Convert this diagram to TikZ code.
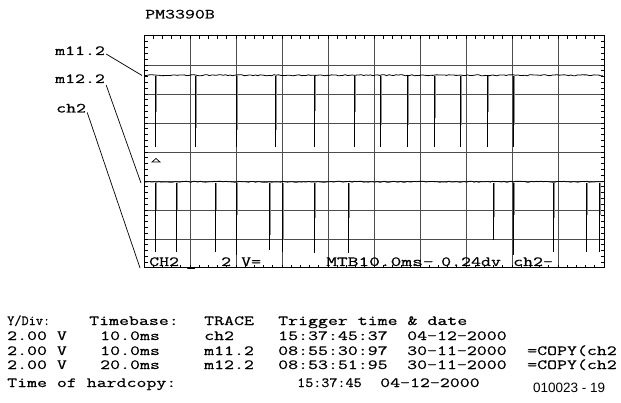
\documentclass[tikz,border=0pt]{standalone}
\usepackage{fontspec}
\setmonofont[FakeStretch=1.38,FakeBold=0.6]{Latin Modern Mono}
\setsansfont{Liberation Sans}
\begin{document}
\begin{tikzpicture}[x=1pt,y=-1pt,
  mono/.style={font=\ttfamily\fontsize{14}{14}\selectfont, inner sep=0pt, anchor=base west},
  gridline/.style={draw=black!70, line width=0.9pt},
  frame/.style={draw=black, line width=1pt},
  tick/.style={draw=black, line width=0.7pt},
  tracebase/.style={draw=black, line width=0.8pt},
  spikegrey/.style={draw=black!45, line width=1.8pt},
  spikeblack/.style={draw=black, line width=0.8pt},
  leader/.style={draw=black, line width=0.7pt}]
\useasboundingbox (0,0) rectangle (621,403);
\pgfmathsetseed{7}
% grid
\foreach \i in {1,...,9} \draw[gridline] ({144+46*\i},36) -- ({144+46*\i},268);
\foreach \j in {1,...,7} \draw[gridline] (144,{36+29*\j}) -- (604,{36+29*\j});
% ticks
\foreach \k in {1,...,49} {
  \draw[tick] ({144+9.2*\k},36) -- ({144+9.2*\k},39.5);
  \draw[tick] ({144+9.2*\k},268) -- ({144+9.2*\k},265.5);
}
\foreach \k in {1,...,39} {
  \draw[tick] (144,{36+5.8*\k}) -- (148,{36+5.8*\k});
  \draw[tick] (604,{36+5.8*\k}) -- (600.5,{36+5.8*\k});
}
\draw[frame] (144,36) rectangle (604,268);
% upper trace m11.2
\draw[tracebase] plot[domain=145:603, samples=200] (\x,{75.8-1.1*rnd});
\foreach \sx/\g in {155/112,195/128,236/130,275/130,314/111,354/112,380/125,407/125,434/118,460/125,487/112,513/125} {
  \draw[spikegrey] (\sx+0.8,76) -- (\sx+0.8,\g);
  \draw[spikeblack] (\sx,76) -- (\sx,147);
}
% lower trace m12.2
\draw[tracebase] plot[domain=145:603, samples=200] (\x,{182.3-1.1*rnd});
\foreach \sx/\g/\b in {155/210/252,176/210/252,215/210/252,236/215/255,269/235/250,282/240/252,314/218/253,348/218/253,493/217/240,513/215/255,553/218/252,586/215/252,599/215/252} {
  \draw[spikegrey] (\sx+0.8,183) -- (\sx+0.8,\g);
  \draw[spikeblack] (\sx,183) -- (\sx,\b);
}
% trigger marker
\draw[black, line width=0.7pt] (152,162) -- (156,158.5) -- (160,162) -- cycle;
% title and labels
\node[mono] (title) at (145,18.5) {PM3390B};
\node[mono] (m11) at (55,55) {m11.2};
\node[mono] (m12) at (55,83) {m12.2};
\node[mono] (ch) at (56,112.5) {ch2};
\coordinate (m11end) at (142,75.5);
\coordinate (m12end) at (141,183);
\coordinate (chend) at (140,268);
\draw[leader] (m11.base east) ++(1,-1) -- (m11end);
\draw[leader] (m12.base east) ++(1,2) -- (m12end);
\draw[leader] (ch.base east) ++(1,0) -- (chend);
% status line
\node[mono] (s1) at (149,266) {CH2};
\node[mono] (s2) at (186,266) {\_};
\node[mono] (s3) at (221,266) {2};
\node[mono] (s4) at (241,266) {V=};
\node[mono] (s5) at (326,266) {\scalebox{1.08}[1]{MTB10.0ms-}};
\node[mono] (s6) at (441,266) {0.24dv};
\node[mono] (s7) at (513,266) {ch2-};
% table
\node[mono] (h1) at (7,325) {\scalebox{0.72}[1]{Y/Div:}};
\node[mono] (h2) at (89,325) {Timebase:};
\node[mono] (h3) at (204,325) {TRACE};
\node[mono] (h4) at (278,325) {Trigger time \& date};
\node[mono] (a1) at (7,340) {2.00 V};
\node[mono] (a2) at (100,340) {10.0ms};
\node[mono] (a3) at (204,340) {ch2};
\node[mono] (a4) at (278,340) {15:37:45:37};
\node[mono] (a5) at (407,340) {04-12-2000};
\node[mono] (b1) at (7,355) {2.00 V};
\node[mono] (b2) at (100,355) {10.0ms};
\node[mono] (b3) at (204,355) {m11.2};
\node[mono] (b4) at (278,355) {08:55:30:97};
\node[mono] (b5) at (407,355) {30-11-2000};
\node[mono] (b6) at (527,355) {=COPY(ch2};
\node[mono] (c1) at (7,369) {2.00 V};
\node[mono] (c2) at (100,369) {20.0ms};
\node[mono] (c3) at (204,369) {m12.2};
\node[mono] (c4) at (278,369) {08:53:51:95};
\node[mono] (c5) at (407,369) {30-11-2000};
\node[mono] (c6) at (527,369) {=COPY(ch2};
\node[mono] (t1) at (7,387) {Time of hardcopy:};
\node[mono] (t2) at (297,387) {\scalebox{0.81}[1]{15:37:45}};
\node[mono] (t3) at (380,387) {04-12-2000};
\node[font=\sffamily\fontsize{13.5}{13.5}\selectfont, inner sep=0pt, anchor=base west] (code) at (533,392) {010023 - 19};
\end{tikzpicture}
\end{document}
